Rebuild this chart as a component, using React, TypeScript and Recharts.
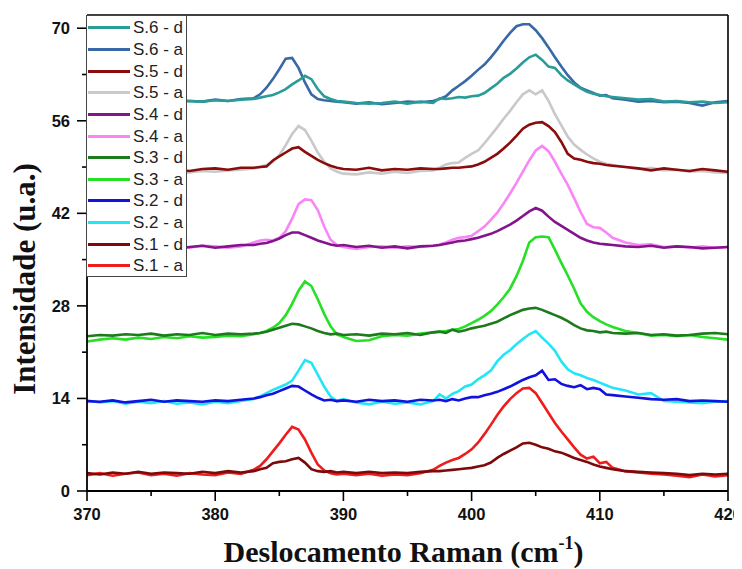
import React from 'react';
import { LineChart, Line, XAxis, YAxis, Legend, Label } from 'recharts';

// Raman shift grid (cm-1)
const X_VALUES = [
  370, 371, 372, 373, 374, 375, 376, 377, 378, 379, 380, 381, 382,
  383, 383.5, 384, 384.5, 385, 385.5, 386, 386.5, 387, 387.5, 388, 388.5, 389, 389.5, 390,
  391, 392, 393, 394, 395, 396, 397,
  397.5, 398, 398.5, 399, 399.5, 400, 400.5, 401, 401.5, 402, 402.5, 403, 403.5, 404, 404.5, 405, 405.5, 406, 406.5, 407, 407.5, 408, 408.5, 409, 409.5, 410, 410.5, 411,
  412, 413, 414, 415, 416, 417, 418, 419, 420,
];

const S1_A = [
  2.4, 2.7, 2.3, 2.6, 2.8, 2.4, 2.6, 2.3, 2.7, 2.5, 2.4, 2.8, 2.6,
  3.2, 3.8, 4.8, 6.0, 7.2, 8.5, 9.7, 9.3, 7.8, 5.8, 4.0, 3.1, 2.7, 2.5, 2.6,
  2.4, 2.6, 2.3, 2.5, 2.4, 2.7, 3.2,
  3.8, 4.3, 4.7, 5.0, 5.6, 6.3, 7.3, 8.6, 10.0, 11.5, 12.8, 13.9, 14.8, 15.5, 15.6, 14.8, 13.3, 11.8, 10.3, 9.0, 7.8, 6.6, 5.5, 4.9, 5.2, 4.2, 4.4, 3.5,
  3.0, 2.8, 2.6, 2.5, 2.3, 2.1, 2.5, 2.2, 2.4,
];
const S1_D = [
  2.7, 2.5, 2.8, 2.6, 2.9, 2.6, 2.8, 2.7, 2.6, 2.9, 2.7, 3.0, 2.8,
  3.0, 3.3, 3.5, 4.2, 4.4, 4.5, 4.8, 5.0, 4.3, 3.3, 3.0, 2.9, 3.0, 2.8, 2.9,
  2.7, 2.9, 2.7, 2.8, 2.7, 2.9, 3.0,
  3.0, 3.1, 3.2, 3.3, 3.4, 3.5, 3.7, 3.9, 4.3, 5.0, 5.6, 6.1, 6.6, 7.2, 7.3, 7.0, 6.6, 6.4, 6.0, 5.8, 5.4, 5.0, 4.7, 4.4, 4.0, 3.7, 3.5, 3.3,
  3.0, 2.9, 2.8, 2.7, 2.6, 2.4, 2.6, 2.5, 2.6,
];
const S2_A = [
  13.7, 13.4, 13.6, 13.2, 13.5, 13.3, 13.6, 13.2, 13.4, 13.1, 13.5, 13.3, 13.6,
  13.9, 14.3, 14.8, 15.3, 15.7, 16.1, 16.7, 18.2, 19.8, 19.4, 17.6, 15.8, 14.3, 13.6, 13.9,
  13.4, 13.1, 13.5, 13.2, 13.4, 13.1, 13.6,
  14.6, 14.0, 14.7, 15.1, 15.8, 16.1, 16.9, 17.5, 18.2, 19.6, 20.6, 21.3, 22.2, 23.0, 23.7, 24.2, 23.2, 22.3, 21.2, 19.6, 18.4, 17.8, 17.5, 17.1, 16.8, 16.4, 16.0, 15.6,
  15.2, 14.6, 14.8, 13.6, 13.5, 13.4, 13.3, 13.5, 13.6,
];
const S2_D = [
  13.6, 13.5, 13.7, 13.4, 13.6, 13.8, 13.5, 13.7, 13.6, 13.5, 13.7, 13.6, 13.8,
  14.0, 14.2, 14.5, 14.7, 15.1, 15.5, 15.9, 15.8, 15.2, 14.6, 14.1, 13.7, 13.8, 13.6, 13.7,
  13.5, 13.8, 13.6, 13.7, 13.5, 13.8, 13.7,
  13.8, 13.6, 13.9, 13.7, 14.0, 14.2, 14.2, 14.5, 14.7, 15.0, 15.4, 15.8, 16.3, 16.8, 17.2, 17.5, 18.2, 16.8, 16.9, 16.2, 15.9, 15.7, 16.0, 15.4, 15.6, 15.4, 14.6, 14.5,
  14.3, 14.1, 13.9, 13.8, 13.9, 13.6, 13.7, 13.6, 13.5,
];
const S3_A = [
  22.6, 22.9, 23.1, 22.9, 23.2, 23.0, 23.3, 23.1, 23.4, 23.2, 23.3, 23.5, 23.4,
  23.7, 23.9, 24.2, 24.7, 25.4, 26.6, 28.3, 30.3, 31.7, 31.0, 29.0, 26.8, 24.9, 23.7, 23.3,
  22.7, 22.8, 23.4, 23.6, 23.5, 23.8, 24.0,
  24.1, 24.2, 24.4, 24.5, 24.9, 25.4, 25.9, 26.5, 27.2, 28.2, 29.3, 30.6, 32.5, 34.8, 37.6, 38.4, 38.5, 38.4, 36.5, 34.5, 32.6, 30.6, 28.4, 27.1, 26.3, 25.7, 25.2, 24.8,
  24.2, 23.9, 23.5, 23.6, 23.4, 23.6, 23.3, 23.1, 22.9,
];
const S3_D = [
  23.4, 23.6, 23.5, 23.7, 23.6, 23.8, 23.5, 23.7, 23.6, 23.9, 23.6, 23.8, 23.7,
  23.8, 23.9, 24.1, 24.4, 24.7, 25.0, 25.3, 25.2, 24.9, 24.6, 24.2, 23.9, 23.7, 23.8, 23.6,
  23.7, 23.5, 23.8, 23.7, 23.9, 23.6, 24.0,
  24.1, 23.9, 24.4, 24.1, 24.3, 24.6, 24.8, 25.0, 25.3, 25.6, 26.1, 26.6, 27.0, 27.4, 27.6, 27.7, 27.4, 27.0, 26.6, 26.2, 25.7, 25.1, 24.6, 24.3, 24.2, 24.0, 24.1, 23.9,
  23.8, 23.9, 23.6, 23.7, 23.5, 23.6, 23.8, 23.9, 23.7,
];
const S4_A = [
  36.9, 37.1, 36.8, 37.0, 36.8, 37.1, 36.9, 37.0, 36.8, 37.1, 37.0, 36.8, 37.0,
  37.6, 37.9, 38.0, 37.9, 38.3, 39.3, 41.2, 43.4, 44.1, 44.0, 42.5, 40.0, 38.0, 37.2, 36.9,
  36.6, 36.9, 37.0, 36.8, 37.0, 36.9, 37.1,
  37.3, 37.6, 38.0, 38.3, 38.4, 38.6, 39.3, 40.0, 41.0, 42.1, 43.5, 45.0, 46.6, 48.3, 50.0, 51.5, 52.2, 51.4, 49.8, 48.0, 46.3, 44.3, 42.2, 40.4, 39.9, 39.8, 39.1, 38.3,
  37.6, 37.2, 37.3, 36.9, 37.0, 36.8, 37.0, 36.8, 36.9,
];
const S4_D = [
  37.0, 36.8, 37.1, 36.9, 37.2, 36.8, 37.0, 36.7, 36.9, 37.1, 36.8, 37.0, 37.2,
  37.2, 37.4, 37.5, 37.8, 38.2, 38.7, 39.1, 39.1, 38.7, 38.3, 37.9, 37.6, 37.3, 37.1, 37.2,
  36.9, 37.1, 36.8, 37.0, 36.7, 37.0, 37.1,
  37.2, 37.4, 37.6, 37.8, 37.9, 38.1, 38.3, 38.6, 38.9, 39.3, 39.8, 40.3, 40.9, 41.6, 42.3, 42.8, 42.4, 41.5, 40.7, 40.1, 39.5, 38.9, 38.3, 37.9, 37.6, 37.4, 37.3, 37.2,
  37.0, 36.9, 37.1, 36.8, 37.0, 36.9, 36.7, 36.8, 36.9,
];
const S5_A = [
  48.0, 48.3, 48.1, 48.4, 48.2, 48.0, 48.3, 48.1, 48.2, 48.4, 48.3, 48.5, 48.6,
  48.8, 49.0, 49.3, 49.8, 50.8, 52.3, 54.0, 55.2, 54.6, 53.0, 51.2, 49.8, 48.8, 48.3, 48.0,
  47.9, 48.2, 48.0, 48.3, 48.1, 48.4, 48.5,
  48.9, 49.4, 49.6, 49.7, 50.4, 51.0, 51.5, 52.6, 53.8, 55.0, 56.3, 57.5, 58.8, 60.0, 60.6, 60.0, 60.6, 59.0, 57.0, 55.3, 53.6, 52.4, 51.6, 50.9, 50.3, 49.8, 49.5, 49.3,
  49.0, 48.7, 48.9, 48.5, 48.6, 48.3, 48.4, 48.2, 48.1,
];
const S5_D = [
  48.4, 48.6, 48.3, 48.5, 48.4, 48.7, 48.5, 48.6, 48.4, 48.7, 48.8, 48.6, 48.9,
  48.9, 49.0, 49.1, 50.0, 50.6, 51.2, 51.8, 52.0, 51.3, 50.7, 50.1, 49.6, 49.2, 48.9, 48.7,
  48.6, 48.9, 48.5, 48.7, 48.6, 48.8, 48.7,
  48.7, 48.8, 48.9, 48.9, 49.0, 49.1, 49.4, 49.8, 50.4, 51.0, 51.8, 52.7, 53.7, 54.8, 55.4, 55.7, 55.8, 55.2, 54.3, 52.8, 51.0, 50.3, 50.1, 49.8, 49.6, 49.5, 49.3, 49.2,
  49.0, 48.8, 48.5, 48.8, 48.6, 48.4, 48.7, 48.5, 48.3,
];
const S6_A = [
  58.6, 58.9, 58.7, 59.0, 58.8, 58.9, 58.7, 59.1, 59.0, 58.9, 59.2, 59.0, 59.3,
  59.4, 60.0, 61.0, 62.3, 63.8, 65.4, 65.5, 64.0, 61.8, 60.0, 59.3, 59.1, 59.0, 58.9, 58.8,
  58.6, 58.8, 58.5, 58.7, 58.9, 58.8, 59.0,
  59.3, 59.7, 60.6, 61.3, 62.0, 62.8, 63.7, 64.5, 65.6, 66.8, 68.1, 69.3, 70.3, 70.6, 70.6, 69.7, 68.5, 67.1, 65.6, 64.2, 62.9, 61.8, 61.0, 60.6, 60.2, 59.8, 59.9, 59.4,
  59.2, 58.9, 59.0, 58.8, 58.9, 58.7, 58.3, 58.8, 59.0,
];
const S6_D = [
  58.7, 58.8, 58.6, 58.9, 58.8, 59.0, 58.8, 58.9, 59.0, 58.9, 59.1, 59.0, 59.2,
  59.3, 59.5, 59.7, 59.9, 60.3, 60.8, 61.5, 62.1, 62.8, 62.3, 60.8, 59.7, 59.3, 59.0, 58.9,
  58.7, 58.6, 58.7, 58.9, 58.6, 58.9, 58.7,
  59.4, 59.3, 59.4, 59.6, 59.5, 59.7, 59.8, 60.2, 60.9, 61.6, 62.5, 63.1, 63.9, 64.8, 65.6, 66.0, 65.2, 64.2, 64.0, 62.9, 62.1, 61.5, 60.9, 60.4, 60.1, 59.9, 59.7, 59.6,
  59.4, 59.2, 59.3, 58.9, 59.0, 58.8, 58.9, 58.7, 58.8,
];

// drawing order (first drawn at the bottom); legend shows the reverse
const SERIES = [
  { key: 's1a', name: 'S.1 - a', values: S1_A },
  { key: 's1d', name: 'S.1 - d', values: S1_D },
  { key: 's2a', name: 'S.2 - a', values: S2_A },
  { key: 's2d', name: 'S.2 - d', values: S2_D },
  { key: 's3a', name: 'S.3 - a', values: S3_A },
  { key: 's3d', name: 'S.3 - d', values: S3_D },
  { key: 's4a', name: 'S.4 - a', values: S4_A },
  { key: 's4d', name: 'S.4 - d', values: S4_D },
  { key: 's5a', name: 'S.5 - a', values: S5_A },
  { key: 's5d', name: 'S.5 - d', values: S5_D },
  { key: 's6a', name: 'S.6 - a', values: S6_A },
  { key: 's6d', name: 'S.6 - d', values: S6_D },
];

const COLORS: Record<string, string> = {
  s1a: '#ee1c1c',
  s1d: '#7d0a0a',
  s2a: '#22e6f8',
  s2d: '#1212e0',
  s3a: '#26e026',
  s3d: '#1d7a1d',
  s4a: '#f986f6',
  s4d: '#84148c',
  s5a: '#c9c9c9',
  s5d: '#8a0c0c',
  s6a: '#3868a6',
  s6d: '#2a9c98',
};

const X_TICKS = [370, 375, 380, 385, 390, 395, 400, 405, 410, 415, 420];
const X_TICK_LABELS = [370, 380, 390, 400, 410, 420];
const Y_TICKS = [0, 7, 14, 21, 28, 35, 42, 49, 56, 63, 70];
const Y_TICK_LABELS = [0, 14, 28, 42, 56, 70];

const data = X_VALUES.map((x, i) => {
  const row: Record<string, number> = { x };
  SERIES.forEach((s) => {
    row[s.key] = s.values[i];
  });
  return row;
});

const TICK_MARGIN = 7;
const MAJOR_LEN = 10;
const MINOR_LEN = 5;
const TICK_FONT = {
  fontFamily: '"Liberation Sans", Arial, sans-serif',
  fontWeight: 700,
  fontSize: 16.5,
  fill: '#111',
};

const YTick = (props: any) => {
  const { x, y, payload } = props;
  const v = payload.value;
  const major = Y_TICK_LABELS.includes(v);
  const ax = x + TICK_MARGIN + MAJOR_LEN;
  return (
    <g>
      <line x1={ax} x2={ax - (major ? MAJOR_LEN : MINOR_LEN)} y1={y} y2={y} stroke="#000" strokeWidth={1.6} />
      {major && (
        <text x={x} y={y} dy="0.355em" textAnchor="end" {...TICK_FONT}>
          {v}
        </text>
      )}
    </g>
  );
};

const XTick = (props: any) => {
  const { x, y, payload } = props;
  const v = payload.value;
  const major = X_TICK_LABELS.includes(v);
  const ay = y - TICK_MARGIN - MAJOR_LEN;
  return (
    <g>
      <line x1={x} x2={x} y1={ay} y2={ay + (major ? MAJOR_LEN : MINOR_LEN)} stroke="#000" strokeWidth={1.6} />
      {major && (
        <text x={x} y={y} dy="0.71em" textAnchor="middle" {...TICK_FONT}>
          {v}
        </text>
      )}
    </g>
  );
};

const TITLE_FONT = {
  fontFamily: '"Liberation Serif", "Times New Roman", serif',
  fontWeight: 700,
  fill: '#111',
};

const YTitle = (props: any) => {
  const vb = props.viewBox;
  const cx = vb.x + 27;
  const cy = vb.y + vb.height / 2 + 26;
  return (
    <text transform={`translate(${cx}, ${cy}) rotate(-90)`} textAnchor="middle" fontSize={31} {...TITLE_FONT}>
      Intensidade (u.a.)
    </text>
  );
};

const XTitle = (props: any) => {
  const vb = props.viewBox;
  const cx = vb.x + vb.width / 2 - 4;
  const cy = vb.y + 71;
  return (
    <text x={cx} y={cy} textAnchor="middle" fontSize={30} {...TITLE_FONT}>
      <tspan>Deslocamento Raman (cm</tspan>
      <tspan fontSize={18} dy={-13}>-1</tspan>
      <tspan dy={13}>)</tspan>
    </text>
  );
};

const LegendBox = () => {
  const items = [...SERIES].reverse();
  return (
    <div
      style={{
        boxSizing: 'border-box',
        width: 101,
        height: 262,
        border: '1px solid #444',
        background: '#fff',
        paddingTop: 1,
      }}
    >
      {items.map((s) => (
        <div key={s.key} style={{ display: 'flex', alignItems: 'center', height: 21.65 }}>
          <div style={{ width: 42, height: 3, background: COLORS[s.key], marginLeft: 1 }} />
          <span
            style={{
              marginLeft: 3,
              fontFamily: '"Liberation Sans", Arial, sans-serif',
              fontSize: 17,
              color: '#222',
              lineHeight: '17px',
              whiteSpace: 'nowrap',
            }}
          >
            {s.name}
          </span>
        </div>
      ))}
    </div>
  );
};

export default function App() {
  return (
    <LineChart width={734} height={561} data={data} margin={{ top: 6, right: 13, bottom: 0, left: 0 }}>
      <XAxis
        dataKey="x"
        type="number"
        domain={[370, 420]}
        ticks={X_TICKS}
        interval={0}
        tickLine={false}
        tickSize={MAJOR_LEN}
        tickMargin={TICK_MARGIN}
        tick={<XTick />}
        axisLine={{ stroke: '#000', strokeWidth: 1.8 }}
        height={78}
        allowDataOverflow
      >
        <Label content={<XTitle />} />
      </XAxis>
      <XAxis
        xAxisId="top"
        orientation="top"
        type="number"
        domain={[370, 420]}
        tick={false}
        tickLine={false}
        height={1}
        axisLine={{ stroke: '#000', strokeWidth: 1.6 }}
      />
      <YAxis
        type="number"
        domain={[0, 72]}
        ticks={Y_TICKS}
        interval={0}
        tickLine={false}
        tickSize={MAJOR_LEN}
        tickMargin={TICK_MARGIN}
        tick={<YTick />}
        axisLine={{ stroke: '#000', strokeWidth: 1.8 }}
        width={79}
        allowDataOverflow
      >
        <Label content={<YTitle />} />
      </YAxis>
      <YAxis
        yAxisId="right"
        orientation="right"
        type="number"
        domain={[0, 72]}
        tick={false}
        tickLine={false}
        width={1}
        axisLine={{ stroke: '#000', strokeWidth: 1.6 }}
      />
      <Legend
        layout="vertical"
        align="center"
        verticalAlign="middle"
        wrapperStyle={{ position: 'absolute', left: 78, top: 7, width: 101, height: 262 }}
        content={() => <LegendBox />}
      />
      {SERIES.map((s) => (
        <Line
          key={s.key}
          dataKey={s.key}
          name={s.name}
          type="linear"
          stroke={COLORS[s.key]}
          strokeWidth={2.6}
          dot={false}
          activeDot={false}
          isAnimationActive={false}
        />
      ))}
    </LineChart>
  );
}
